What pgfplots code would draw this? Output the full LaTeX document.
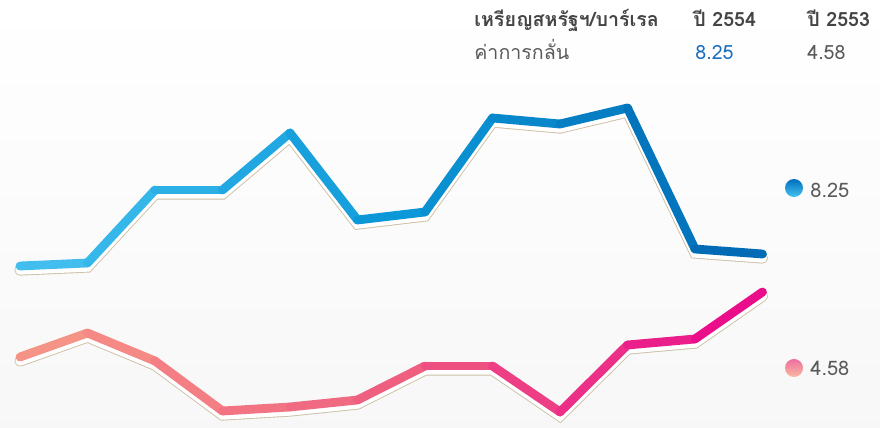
\documentclass[border=0pt]{standalone}
\usepackage{fontspec}
\setmainfont[Script=Thai]{Loma}
\usepackage{pgfplots}
\pgfplotsset{compat=1.18}
\usetikzlibrary{shadings}

\definecolor{hdr}{HTML}{444444}
\definecolor{txt}{HTML}{5A5A5A}
\definecolor{valblue}{HTML}{1B6FBF}
\definecolor{tanc}{HTML}{CDBFA6}
\definecolor{dotbtop}{RGB}{0,110,190}
\definecolor{dotbbot}{RGB}{70,195,240}
\definecolor{dotptop}{RGB}{238,110,160}
\definecolor{dotpbot}{RGB}{250,185,160}

\pgfplotsset{
  colormap={bluemap}{rgb255=(70,194,240) rgb255=(12,152,216) rgb255=(0,104,178)},
  colormap={pinkmap}{rgb255=(246,152,136) rgb255=(239,96,128) rgb255=(234,6,140)},
  halo/.style={no markers, line cap=round, line join=miter, yshift=-2pt},
}

% x = point index, y = pixels from bottom of the 428 px picture
\pgfplotstableread{
i  y
0  162
1  165
2  238
3  238
4  295
5  208
6  216
7  310
8  304
9  320
10 179
11 174
}\yearA
\pgfplotstableread{
i  y
0  71
1  95
2  67
3  17
4  21
5  28
6  62
7  62
8  16
9  83
10 89
11 136
}\yearB

\begin{document}
\begin{tikzpicture}
\begin{axis}[
  at={(0,0)}, anchor=south west,
  scale only axis, width=440pt, height=214pt,
  xmin=-0.2963, xmax=12.7407, ymin=0, ymax=428,
  axis lines=none, ticks=none,
  axis background/.style={shade, top color=white, bottom color=black!3},
  point meta min=0, point meta max=11,
]
% halo under each line
\addplot[halo, line width=5.6pt, tanc] table[x=i,y=y] {\yearA};
\addplot[halo, line width=4.7pt, white] table[x=i,y=y] {\yearA};
\addplot[halo, line width=5.6pt, tanc] table[x=i,y=y] {\yearB};
\addplot[halo, line width=4.7pt, white] table[x=i,y=y] {\yearB};
% gradient lines
\addplot[mesh, colormap name=bluemap, point meta=x, line width=4.4pt, line cap=round] table[x=i,y=y] {\yearA};
\addplot[mesh, colormap name=pinkmap, point meta=x, line width=4.4pt, line cap=round] table[x=i,y=y] {\yearB};

% header table
\node[anchor=base west, font=\fontsize{9.8}{11}\selectfont\bfseries, text=hdr, inner sep=0pt] at (rel axis cs:0.5386,0.9369) {เหรียญสหรัฐฯ/บาร์เรล};
\node[anchor=base west, font=\fontsize{9.8}{11}\selectfont\bfseries, text=hdr, inner sep=0pt] at (rel axis cs:0.7875,0.9369) {ปี 2554};
\node[anchor=base west, font=\fontsize{9.8}{11}\selectfont\bfseries, text=hdr, inner sep=0pt] at (rel axis cs:0.9170,0.9369) {ปี 2553};
\node[anchor=base west, font=\fontsize{9.8}{11}\selectfont, text=txt, inner sep=0pt] at (rel axis cs:0.5386,0.8621) {ค่าการกลั่น};
\node[anchor=base west, font=\fontsize{9.8}{11}\selectfont, text=valblue, inner sep=0pt] at (rel axis cs:0.7898,0.8621) {8.25};
\node[anchor=base west, font=\fontsize{9.8}{11}\selectfont, text=txt, inner sep=0pt] at (rel axis cs:0.9170,0.8621) {4.58};

% end labels
\node[circle, inner sep=0pt, minimum size=9pt, top color=dotbtop, bottom color=dotbbot] at (rel axis cs:0.9023,0.5607) {};
\node[circle, inner sep=0pt, minimum size=9pt, top color=dotptop, bottom color=dotpbot] at (rel axis cs:0.9023,0.1402) {};
\node[anchor=base west, font=\fontsize{10}{12}\selectfont, text=txt, inner sep=0pt] at (rel axis cs:0.9205,0.5397) {8.25};
\node[anchor=base west, font=\fontsize{10}{12}\selectfont, text=txt, inner sep=0pt] at (rel axis cs:0.9205,0.1215) {4.58};
\end{axis}
\end{tikzpicture}
\end{document}
